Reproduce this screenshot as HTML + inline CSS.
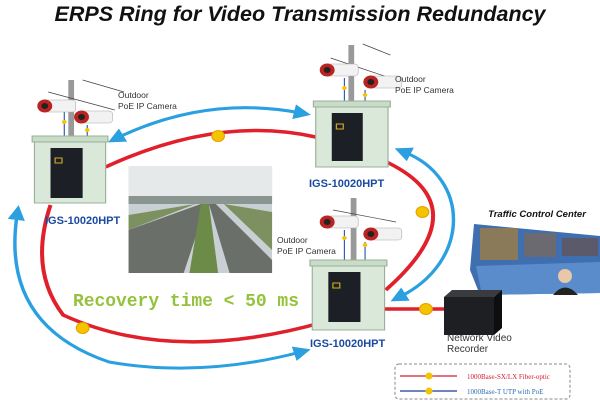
<!DOCTYPE html>
<html><head><meta charset="utf-8"><style>html,body{margin:0;padding:0;background:#fff}svg{display:block}</style></head>
<body>
<svg width="600" height="401" viewBox="0 0 600 401" xmlns="http://www.w3.org/2000/svg" font-family="Liberation Sans, sans-serif">
<defs>
<marker id="ah" markerWidth="5" markerHeight="5" refX="2" refY="2.5" orient="auto-start-reverse" markerUnits="strokeWidth"><path d="M0,0 L5,2.5 L0,5 Z" fill="#2aa0e0"/></marker>
<g id="cam"><rect x="-14" y="-6" width="28" height="12" rx="3" fill="#f2f2f2" stroke="#aaa" stroke-width="0.5"/><circle cx="-13" cy="0" r="6.5" fill="#b22"/><circle cx="-13" cy="0" r="3" fill="#222"/></g>
<g id="badge"><circle r="5.5" fill="#f5c400" stroke="#e8a000"/></g>
</defs>
<text x="300" y="21" font-size="21.5" font-weight="bold" font-style="italic" text-anchor="middle" fill="#111">ERPS Ring for Video Transmission Redundancy</text>

<g transform="scale(1.148,1)">
<g fill="none" stroke="#e0202a" stroke-width="3.5">
<path d="M92,167 Q190,115 275,137"/>
<path d="M333,160 Q420,205 336,290"/>
<path d="M282,322 Q150,365 55,315 Q25,270 44,205"/>
<path d="M335,309 L388,309"/>
</g>
<g fill="none" stroke="#2aa0e0" stroke-width="3">
<path d="M102,138 Q180,95 262,113" marker-start="url(#ah)" marker-end="url(#ah)"/>
<path d="M352,152 C410,178 410,262 348,297" marker-start="url(#ah)" marker-end="url(#ah)"/>
<path d="M15,214 Q0,325 95,362 Q175,378 262,352" marker-start="url(#ah)" marker-end="url(#ah)"/>
</g>
<use href="#badge" x="190" y="136"/><use href="#badge" x="368" y="212"/><use href="#badge" x="72" y="328"/><use href="#badge" x="371" y="309"/>

<g stroke="#999" stroke-width="5"><line x1="62" y1="80" x2="62" y2="142"/><line x1="306" y1="45" x2="306" y2="105"/><line x1="308" y1="198" x2="308" y2="264"/></g>
<g stroke="#444" stroke-width="0.7"><line x1="42" y1="92" x2="100" y2="110"/><line x1="72" y1="80" x2="108" y2="92"/><line x1="288" y1="58" x2="345" y2="80"/><line x1="316" y1="44" x2="340" y2="55"/><line x1="290" y1="210" x2="345" y2="222"/></g>
<g fill="none" stroke="#2a5ab0" stroke-width="1"><path d="M56,112 V180 H48"/><path d="M76,125 V178 H70"/><path d="M300,78 V150"/><path d="M318,90 V150"/><path d="M300,230 V300"/><path d="M318,242 V300"/></g>
<use href="#cam" x="52" y="106"/><use href="#cam" x="84" y="117"/>
<use href="#cam" x="298" y="70"/><use href="#cam" x="336" y="82"/>
<use href="#cam" x="298" y="222"/><use href="#cam" x="336" y="234"/>
<g fill="#f5c400"><circle cx="56" cy="122" r="2"/><circle cx="76" cy="130" r="2"/><circle cx="300" cy="88" r="2"/><circle cx="318" cy="95" r="2"/><circle cx="300" cy="238" r="2"/><circle cx="318" cy="245" r="2"/></g>

<g stroke="#9ab09a" stroke-width="1">
<rect x="30" y="140" width="62" height="63" fill="#d9e8d9"/><rect x="28" y="136" width="66" height="6" fill="#c8dcc8"/>
<rect x="275" y="105" width="63" height="62" fill="#d9e8d9"/><rect x="273" y="101" width="67" height="6" fill="#c8dcc8"/>
<rect x="272" y="264" width="63" height="66" fill="#d9e8d9"/><rect x="270" y="260" width="67" height="6" fill="#c8dcc8"/>
</g>
<g fill="#1c1f26"><rect x="44" y="148" width="28" height="50"/><rect x="289" y="113" width="27" height="48"/><rect x="286" y="272" width="28" height="50"/></g>
<g fill="none" stroke="#d4b020" stroke-width="1"><rect x="48" y="158" width="6" height="5"/><rect x="293" y="124" width="6" height="5"/><rect x="290" y="283" width="6" height="5"/></g>

<rect x="112" y="166" width="125" height="107" fill="#c9d0d4"/>
<rect x="112" y="166" width="125" height="30" fill="#e6e9ea"/>
<rect x="112" y="196" width="125" height="8" fill="#8a9490"/>
<path d="M112,230 L175,204 L180,204 L160,273 L112,273 Z" fill="#6b6f6a"/>
<path d="M182,204 L188,204 L237,260 L237,273 L200,273 Z" fill="#6b6f6a"/>
<path d="M175,204 L182,204 L190,273 L165,273 Z" fill="#6c8a48"/>
<path d="M112,215 L170,204 L112,230Z" fill="#7d9060"/>
<path d="M195,204 L237,212 L237,250Z" fill="#7d9060"/>
</g>

<g font-size="8.5" fill="#333"><text x="118" y="98">Outdoor</text><text x="118" y="109">PoE IP Camera</text>
<text x="395" y="82">Outdoor</text><text x="395" y="93">PoE IP Camera</text>
<text x="277" y="243">Outdoor</text><text x="277" y="254">PoE IP Camera</text>
<text x="447" y="341" font-size="10">Network Video</text><text x="447" y="352" font-size="10">Recorder</text></g>
<g font-size="11" font-weight="bold" fill="#1a4aa0"><text x="309" y="187">IGS-10020HPT</text><text x="45" y="224">IGS-10020HPT</text><text x="310" y="347">IGS-10020HPT</text></g>

<text x="73" y="306" font-size="18" font-weight="bold" fill="#95c23d" font-family="Liberation Mono, monospace" textLength="226">Recovery time &lt; 50 ms</text>

<text x="537" y="217" font-size="9.5" font-weight="bold" font-style="italic" text-anchor="middle" fill="#111">Traffic Control Center</text>
<path d="M474,224 L600,236 L600,293 L480,295 L470,270 Z" fill="#3f6fb0"/>
<rect x="480" y="228" width="38" height="32" fill="#8a7a5a"/><rect x="524" y="233" width="32" height="24" fill="#6a6a70"/><rect x="562" y="238" width="36" height="18" fill="#5a5a6a"/>
<path d="M476,266 L600,262 L600,293 L482,295Z" fill="#5a8ccc"/>
<circle cx="565" cy="276" r="7" fill="#e8c8a8"/><path d="M553,295 Q565,280 578,295Z" fill="#222"/>
<rect x="444" y="297" width="50" height="38" fill="#1e1f22"/><path d="M444,297 L452,290 L502,290 L494,297Z" fill="#3a3b3f"/><path d="M494,297 L502,290 L502,328 L494,335Z" fill="#0e0e10"/>

<rect x="395" y="364" width="175" height="35" rx="4" fill="none" stroke="#888" stroke-dasharray="3,2"/>
<line x1="400" y1="376" x2="457" y2="376" stroke="#d02030" stroke-width="1.2"/><line x1="400" y1="391" x2="457" y2="391" stroke="#1a3a9a" stroke-width="1.2"/>
<circle cx="429" cy="376" r="3.5" fill="#f5c400"/><circle cx="429" cy="391" r="3.5" fill="#f5c400"/>
<text x="467" y="379" font-size="7" fill="#d02030" font-family="Liberation Serif, serif">1000Base-SX/LX Fiber-optic</text>
<text x="467" y="394" font-size="7" fill="#2a6ab0" font-family="Liberation Serif, serif">1000Base-T UTP with PoE</text>
</svg>
</body></html>
